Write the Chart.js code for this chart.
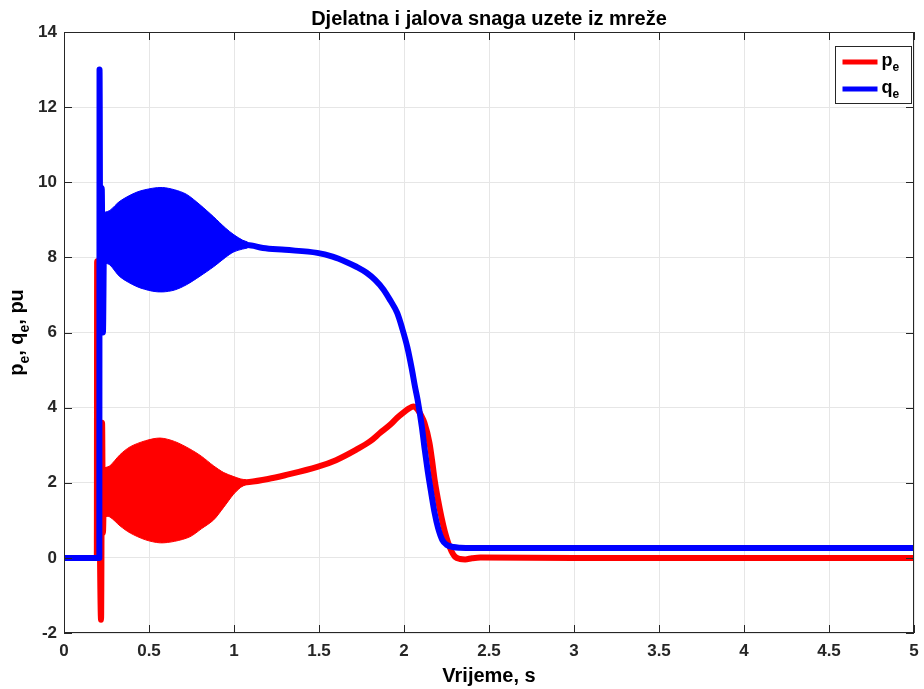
<!DOCTYPE html>
<html>
<head>
<meta charset="utf-8">
<script src="https://cdn.jsdelivr.net/npm/chart.js@4.4.1/dist/chart.umd.min.js"></script>
<style>
  html, body { margin: 0; padding: 0; background: #ffffff; }
  #c { display: block; }
</style>
</head>
<body>
<canvas id="c" width="924" height="689"></canvas>
<script>
// ---------- data ----------
const chartTitle = 'Djelatna i jalova snaga uzete iz mreže';
const xTitle = 'Vrijeme, s';
const xTicks = [0, 0.5, 1, 1.5, 2, 2.5, 3, 3.5, 4, 4.5, 5];
const yTicks = [-2, 0, 2, 4, 6, 8, 10, 12, 14];

// q_e (reactive power) main trace: start, spikes, smooth part after oscillations decay
const qX = [0, 0.208, 0.209, 0.214, 0.222, 0.229, 0.236, 0.24, 1.08, 1.17, 1.3, 1.49, 1.58, 1.66, 1.72, 1.78, 1.83, 1.88, 1.92, 1.96, 1.99, 2.02, 2.045, 2.065, 2.08, 2.105, 2.12, 2.14, 2.16, 2.18, 2.2, 2.225, 2.25, 2.29, 2.33, 2.4, 3, 4, 5];
const qY = [0, 0, 13.0, 6.2, 9.85, 6.0, 8.6, 8.5, 8.33, 8.25, 8.2, 8.12, 8.02, 7.88, 7.75, 7.59, 7.4, 7.14, 6.85, 6.52, 6.1, 5.6, 5.05, 4.55, 4.21, 3.49, 2.95, 2.3, 1.73, 1.2, 0.8, 0.48, 0.35, 0.29, 0.27, 0.26, 0.26, 0.26, 0.26];
// q_e oscillation envelope (upper / lower extremes)
const qEnvX = [0.24, 0.27, 0.33, 0.43, 0.52, 0.58, 0.65, 0.72, 0.8, 0.88, 0.95, 1.0, 1.05, 1.08];
const qUpper = [9.2, 9.25, 9.5, 9.74, 9.84, 9.86, 9.8, 9.68, 9.4, 9.08, 8.78, 8.6, 8.46, 8.41];
const qLower = [7.85, 7.8, 7.48, 7.22, 7.1, 7.08, 7.13, 7.27, 7.5, 7.75, 8.0, 8.15, 8.22, 8.25];

// p_e (active power) main trace
const pX = [0, 0.193, 0.195, 0.218, 0.224, 0.229, 0.236, 0.24, 1.09, 1.2, 1.3, 1.49, 1.6, 1.72, 1.8, 1.86, 1.92, 1.96, 2.0, 2.03, 2.055, 2.08, 2.1, 2.12, 2.15, 2.165, 2.18, 2.2, 2.22, 2.24, 2.26, 2.28, 2.3, 2.33, 2.36, 2.4, 2.45, 3, 4, 5];
const pY = [0, 0, 7.9, -1.65, 3.6, 0.66, 2.0, 1.8, 2.02, 2.1, 2.2, 2.42, 2.6, 2.88, 3.1, 3.33, 3.55, 3.73, 3.88, 3.98, 4.03, 3.95, 3.8, 3.6, 3.06, 2.6, 2.08, 1.55, 1.09, 0.7, 0.4, 0.17, 0.03, -0.03, -0.04, -0.01, 0.01, 0, 0, 0];
// p_e oscillation envelope
const pEnvX = [0.24, 0.27, 0.33, 0.39, 0.48, 0.565, 0.65, 0.74, 0.81, 0.88, 0.94, 0.995, 1.04, 1.07];
const pUpper = [2.4, 2.45, 2.75, 2.96, 3.12, 3.19, 3.1, 2.9, 2.7, 2.45, 2.27, 2.17, 2.1, 2.08];
const pLower = [1.1, 1.09, 0.85, 0.66, 0.48, 0.4, 0.44, 0.56, 0.78, 1.01, 1.35, 1.68, 1.88, 1.95];

const RED = '#ff0000';
const BLUE = '#0000ff';

function pts(xs, ys) { return xs.map((x, i) => ({ x: x, y: ys[i] })); }

const FONT = '"Liberation Sans", Arial, Helvetica, sans-serif';
const AXIS = '#262626';

// text with subscript "e": segments [text, isSub]
function drawRich(ctx, segs, x, y, size, align) {
  const subSize = Math.round(size * 0.68);
  let total = 0;
  segs.forEach(s => { ctx.font = 'bold ' + (s[1] ? subSize : size) + 'px ' + FONT; total += ctx.measureText(s[0]).width; });
  let cx = align === 'center' ? x - total / 2 : x;
  ctx.textBaseline = 'alphabetic';
  ctx.textAlign = 'left';
  segs.forEach(s => {
    ctx.font = 'bold ' + (s[1] ? subSize : size) + 'px ' + FONT;
    ctx.fillText(s[0], cx, s[1] ? y + size * 0.28 : y);
    cx += ctx.measureText(s[0]).width;
  });
}

const decor = {
  id: 'decor',
  afterDraw(chart) {
    const ctx = chart.ctx;
    const a = chart.chartArea;
    const xs = chart.scales.x, ys = chart.scales.y;
    ctx.save();
    // box
    ctx.strokeStyle = AXIS;
    ctx.lineWidth = 1;
    ctx.strokeRect(Math.round(a.left) + 0.5, Math.round(a.top) + 0.5, Math.round(a.right - a.left) - 1, Math.round(a.bottom - a.top) - 1);
    // inner ticks on all sides
    const tl = 8;
    ctx.beginPath();
    xTicks.forEach(v => {
      const px = Math.round(xs.getPixelForValue(v)) + 0.5;
      ctx.moveTo(px, a.bottom); ctx.lineTo(px, a.bottom - tl);
      ctx.moveTo(px, a.top); ctx.lineTo(px, a.top + tl);
    });
    yTicks.forEach(v => {
      const py = Math.round(ys.getPixelForValue(v)) + 0.5;
      ctx.moveTo(a.left, py); ctx.lineTo(a.left + tl, py);
      ctx.moveTo(a.right, py); ctx.lineTo(a.right - tl, py);
    });
    ctx.stroke();

    ctx.fillStyle = '#000000';
    // title
    ctx.font = 'bold 20px ' + FONT;
    ctx.textAlign = 'center';
    ctx.textBaseline = 'alphabetic';
    ctx.fillText(chartTitle, (a.left + a.right) / 2, 25);
    // x axis title
    ctx.font = 'bold 20px ' + FONT;
    ctx.fillText(xTitle, (a.left + a.right) / 2, 682);
    // y axis title rotated
    ctx.save();
    ctx.translate(23, (a.top + a.bottom) / 2);
    ctx.rotate(-Math.PI / 2);
    drawRich(ctx, [['p', false], ['e', true], [', q', false], ['e', true], [', pu', false]], 0, 0, 20, 'center');
    ctx.restore();

    // legend (anchored to top-right of plot area)
    const lw = 76, lh = 57;
    const lx = Math.round(a.right) - 3 - lw + 0.5, ly = Math.round(a.top) + 14.5;
    ctx.fillStyle = '#ffffff';
    ctx.fillRect(lx, ly, lw, lh);
    ctx.strokeStyle = AXIS;
    ctx.lineWidth = 1;
    ctx.strokeRect(lx, ly, lw, lh);
    const items = [[RED, 'p', ly + 15.5], [BLUE, 'q', ly + 42.5]];
    items.forEach(it => {
      ctx.strokeStyle = it[0];
      ctx.lineWidth = 5;
      ctx.beginPath();
      ctx.moveTo(lx + 7, it[2]); ctx.lineTo(lx + 42, it[2]);
      ctx.stroke();
      ctx.fillStyle = '#000000';
      drawRich(ctx, [[it[1], false], ['e', true]], lx + 46, it[2] + 4, 18, 'left');
    });
    ctx.restore();
  }
};

const LW = 6;
const mainOpts = { borderWidth: LW, pointRadius: 0, fill: false, cubicInterpolationMode: 'monotone', borderCapStyle: 'round', borderJoinStyle: 'round' };
const envOpts = { borderWidth: 1, pointRadius: 0, tension: 0.3 };
new Chart(document.getElementById('c'), {
  type: 'line',
  data: {
    datasets: [
      Object.assign({ label: 'q_e', data: pts(qX, qY), borderColor: BLUE }, mainOpts),
      Object.assign({ label: 'q_e upper', data: pts(qEnvX, qUpper), borderColor: BLUE, backgroundColor: BLUE, fill: '+1' }, envOpts),
      Object.assign({ label: 'q_e lower', data: pts(qEnvX, qLower), borderColor: BLUE, fill: false }, envOpts),
      Object.assign({ label: 'p_e', data: pts(pX, pY), borderColor: RED }, mainOpts),
      Object.assign({ label: 'p_e upper', data: pts(pEnvX, pUpper), borderColor: RED, backgroundColor: RED, fill: '+1' }, envOpts),
      Object.assign({ label: 'p_e lower', data: pts(pEnvX, pLower), borderColor: RED, fill: false }, envOpts)
    ]
  },
  options: {
    responsive: false,
    animation: false,
    devicePixelRatio: 1,
    parsing: false,
    layout: { padding: { top: 32, right: 10, left: 0, bottom: 0 } },
    plugins: {
      legend: { display: false },
      title: { display: false },
      tooltip: { enabled: false }
    },
    scales: {
      x: {
        type: 'linear', min: 0, max: 5,
        afterFit(s) { s.height = 56; s.paddingLeft = 0; s.paddingRight = 0; },
        afterBuildTicks(s) { s.ticks = xTicks.map(v => ({ value: v })); },
        ticks: { color: '#262626', font: { family: FONT, size: 17, weight: 'bold' }, padding: 8, maxRotation: 0, autoSkip: false, callback: v => String(v) },
        grid: { color: '#e6e6e6', drawTicks: false, lineWidth: 1 },
        border: { display: false }
      },
      y: {
        type: 'linear', min: -2, max: 14,
        afterFit(s) { s.width = 64; s.paddingTop = 0; s.paddingBottom = 0; },
        afterBuildTicks(s) { s.ticks = yTicks.map(v => ({ value: v })); },
        ticks: { color: '#262626', font: { family: FONT, size: 17, weight: 'bold' }, padding: 7, autoSkip: false, callback: v => String(v) },
        grid: { color: '#e6e6e6', drawTicks: false, lineWidth: 1 },
        border: { display: false }
      }
    }
  },
  plugins: [decor]
});
</script>
</body>
</html>
